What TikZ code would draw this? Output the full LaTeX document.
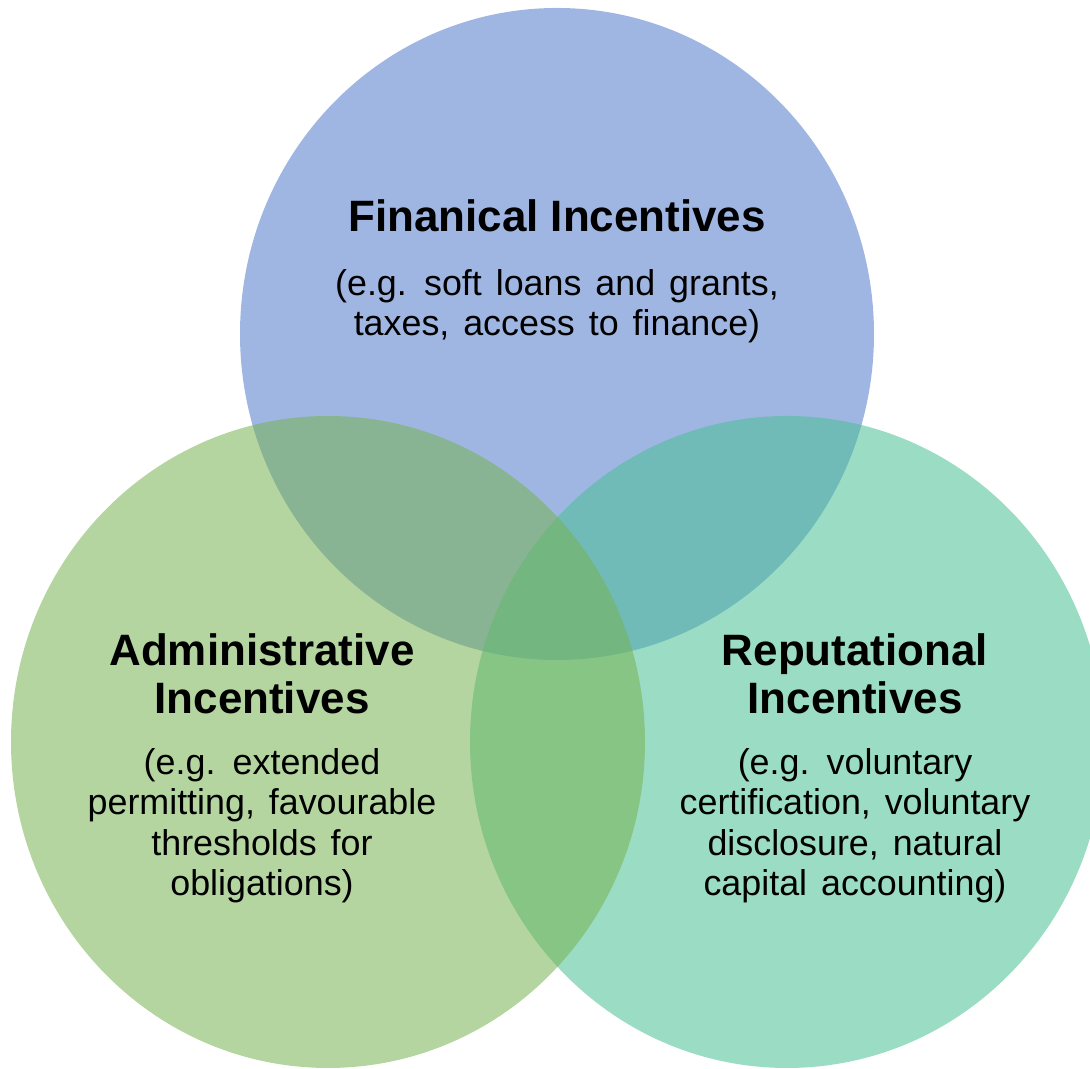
\documentclass[tikz,border=0pt]{standalone}
\usepackage{fontspec}
\setmainfont{Liberation Sans}
\newfontfamily\egfont{Liberation Sans}[WordSpace=1.4]
\usepackage{tikz}
\usetikzlibrary{positioning}
\definecolor{finblue}{RGB}{82,122,202}
\definecolor{admgreen}{RGB}{119,179,82}
\definecolor{repgreen}{RGB}{73,191,148}
\tikzset{
  venn/.style={fill=#1, fill opacity=0.55, draw=none},
  heading/.style={align=center, inner sep=0pt, font=\bfseries\fontsize{12.5}{13.7}\selectfont},
  egtext/.style={align=center, inner sep=0pt, font=\egfont\fontsize{10.2}{11.5}\selectfont},
}

\begin{document}
\begin{tikzpicture}
\useasboundingbox (0,0) rectangle (10.9,10.69);
\clip (0,0) rectangle (10.9,10.69);

% Circles (top one first, left one last)
\fill[venn=finblue] (5.57,7.35) ellipse (3.17 and 3.26);
\fill[venn=repgreen] (7.87,3.27) ellipse (3.17 and 3.26);
\fill[venn=admgreen] (3.28,3.27) ellipse (3.17 and 3.26);

% Headings
\node[heading] (fin) at (5.57,8.53) {Finanical Incentives};
\node[heading] (adm) at (2.62,3.95) {Administrative\\Incentives};
\node[heading] (rep) at (8.55,3.95) {Reputational\\Incentives};

% Examples under each heading
\node[egtext, below=0.36 of fin] (fineg) {(e.g. soft loans and grants,\\taxes, access to finance)};
\node[egtext, below=0.33 of adm] (admeg) {(e.g. extended\\permitting, favourable\\thresholds for\\obligations)};
\node[egtext, below=0.33 of rep] (repeg) {(e.g. voluntary\\certification, voluntary\\disclosure, natural\\capital accounting)};

\end{tikzpicture}
\end{document}
